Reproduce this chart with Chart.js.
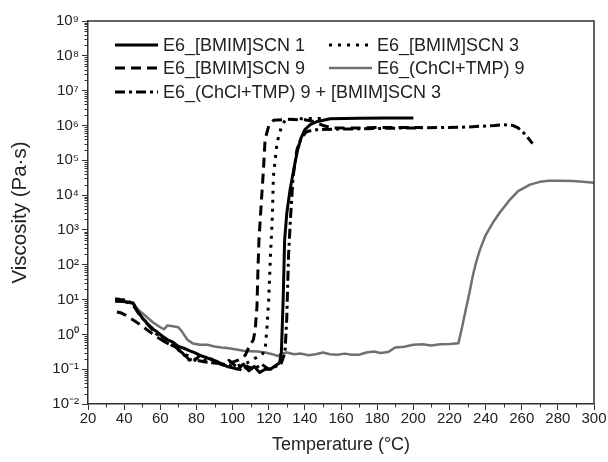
<!DOCTYPE html>
<html>
<head>
<meta charset="utf-8">
<script src="https://cdn.jsdelivr.net/npm/chart.js@4.4.1/dist/chart.umd.min.js"></script>
<style>
  html, body { margin: 0; padding: 0; background: #fff; }
  #wrap { width: 608px; height: 462px; }
</style>
</head>
<body>
<div id="wrap"><canvas id="viscChart" width="608" height="462"></canvas></div>
<script>
// axis ticks
const xTicks = [20, 40, 60, 80, 100, 120, 140, 160, 180, 200, 220, 240, 260, 280, 300];
const yTickExponents = [-2, -1, 0, 1, 2, 3, 4, 5, 6, 7, 8, 9];

// E6_[BMIM]SCN 1 (solid)
const s1Temp = [35, 38, 42, 45, 47, 50, 53, 56, 58, 61, 64, 67, 70, 73, 76, 79, 82, 85, 88, 91, 94, 97, 100, 103, 106, 109, 112, 115, 118, 121, 124, 126, 127, 128, 128.8, 130, 131.8, 134, 136, 138, 140, 143, 147, 154, 170, 185, 200];
const s1Visc = [9, 9, 8.5, 8, 5, 3, 2, 1.4, 1.2, 0.9, 0.7, 0.6, 0.45, 0.4, 0.34, 0.3, 0.25, 0.22, 0.19, 0.17, 0.14, 0.12, 0.11, 0.1, 0.14, 0.09, 0.12, 0.08, 0.1, 0.1, 0.13, 0.15, 0.3, 10, 500, 3e3, 1.4e4, 6e4, 2e5, 4.5e5, 7.6e5, 1.05e6, 1.3e6, 1.55e6, 1.62e6, 1.65e6, 1.65e6];

// E6_[BMIM]SCN 3 (dotted)
const s3Temp = [36, 40, 45, 50, 55, 60, 66, 72, 78, 84, 90, 96, 102, 108, 112, 116, 118, 119, 120, 121, 122, 122.6, 124.6, 127, 129, 135, 150];
const s3Visc = [9.5, 9, 7, 3, 1.6, 0.9, 0.5, 0.3, 0.2, 0.17, 0.15, 0.13, 0.12, 0.15, 0.2, 0.25, 0.35, 1.5, 10, 200, 2.3e3, 3.4e4, 3.2e5, 9e5, 1.4e6, 1.55e6, 1.6e6];

// E6_[BMIM]SCN 9 (dashed)
const s9Temp = [36, 38, 41, 45, 49, 54, 58, 62.6, 67, 72.6, 76, 80, 85, 90, 95, 100, 104, 107, 109, 111.5, 112.5, 113.5, 114, 114.6, 116, 117, 118, 120, 122.6, 130, 140, 145, 150, 155, 170, 185, 205];
const s9Visc = [4.4, 4.2, 3.5, 2.6, 1.9, 1.2, 0.85, 0.6, 0.5, 0.28, 0.19, 0.18, 0.16, 0.15, 0.14, 0.16, 0.19, 0.25, 0.43, 0.7, 1.3, 6.3, 60, 500, 7.5e3, 4.5e4, 4e5, 9.7e5, 1.4e6, 1.5e6, 1.45e6, 1.3e6, 1e6, 8.5e5, 8.5e5, 8.8e5, 8.8e5];

// E6_(ChCl+TMP) 9 (grey)
const chTemp = [35, 40, 45, 48, 52, 56, 60, 62, 64, 67, 70, 72, 75, 78, 82, 86, 90, 94, 98, 102, 106, 110, 114, 118, 122, 125, 127, 130, 134, 138, 142, 146, 150, 154, 158, 162, 166, 170, 174, 178, 182, 186, 190, 195, 200, 205, 210, 215, 220, 225, 227, 229, 231, 233, 235, 237, 240, 244, 248, 253.5, 258, 264.6, 270, 275, 281, 288, 294, 300];
const chVisc = [9, 8.8, 7.5, 5, 3.3, 2.2, 1.6, 1.4, 1.8, 1.7, 1.6, 1.2, 0.7, 0.55, 0.5, 0.5, 0.45, 0.42, 0.4, 0.37, 0.34, 0.33, 0.32, 0.3, 0.27, 0.24, 0.28, 0.3, 0.27, 0.28, 0.25, 0.27, 0.3, 0.27, 0.26, 0.28, 0.26, 0.26, 0.3, 0.32, 0.29, 0.31, 0.42, 0.44, 0.5, 0.52, 0.48, 0.52, 0.53, 0.56, 1.6, 5, 15, 50, 130, 280, 700, 1.6e3, 3.2e3, 7.4e3, 1.3e4, 2e4, 2.4e4, 2.6e4, 2.6e4, 2.55e4, 2.4e4, 2.25e4];

// E6_(ChCl+TMP) 9 + [BMIM]SCN 3 (dash-dot)
const mixTemp = [35, 38, 42, 45, 48, 52, 56, 60, 64, 68, 72, 75, 78, 82, 85, 88, 92, 95, 98, 102, 105, 108, 112, 116, 120, 124, 127, 129, 130, 131, 132, 133.5, 135.6, 138, 141, 145, 155, 170, 185, 200, 215, 230, 245, 250, 255, 258, 262, 266];
const mixVisc = [10.5, 10, 9.5, 7, 4, 2.2, 1.3, 0.8, 0.55, 0.45, 0.3, 0.2, 0.16, 0.25, 0.18, 0.2, 0.15, 0.13, 0.18, 0.12, 0.09, 0.12, 0.1, 0.14, 0.1, 0.12, 0.15, 0.3, 3, 200, 2e3, 3.4e4, 2e5, 4.5e5, 6.6e5, 7.5e5, 7.8e5, 8e5, 8.3e5, 8.5e5, 8.7e5, 9e5, 1e6, 1.05e6, 1e6, 8.5e5, 5.5e5, 3e5];

const FONT = "'Liberation Sans', Arial, sans-serif";
const TXT = '#222';
const AXIS = '#333';

function toPoints(xs, ys) {
  return xs.map((x, i) => ({ x: x, y: ys[i] }));
}

function sup(n) {
  const map = { '-': '\u207B', '0': '\u2070', '1': '\u00B9', '2': '\u00B2', '3': '\u00B3', '4': '\u2074', '5': '\u2075', '6': '\u2076', '7': '\u2077', '8': '\u2078', '9': '\u2079' };
  return String(n).split('').map(c => map[c]).join('');
}

// frame + minor ticks
const framePlugin = {
  id: 'frame',
  afterDraw(chart) {
    const ctx = chart.ctx;
    const a = chart.chartArea;
    const xs = chart.scales.x, ys = chart.scales.y;
    ctx.save();
    ctx.strokeStyle = AXIS;
    ctx.lineWidth = 1.5;
    ctx.beginPath();
    ctx.moveTo(a.left, a.top);
    ctx.lineTo(a.right, a.top);
    ctx.lineTo(a.right, a.bottom);
    ctx.stroke();

    ctx.lineWidth = 1;
    ctx.beginPath();
    for (let i = 0; i < xTicks.length - 1; i++) {
      const px = Math.round(xs.getPixelForValue((xTicks[i] + xTicks[i + 1]) / 2)) + 0.5;
      ctx.moveTo(px, a.bottom);
      ctx.lineTo(px, a.bottom + 3.5);
    }
    for (let i = 0; i < yTickExponents.length - 1; i++) {
      for (let m = 2; m <= 9; m++) {
        const py = Math.round(ys.getPixelForValue(m * Math.pow(10, yTickExponents[i]))) + 0.5;
        ctx.moveTo(a.left, py);
        ctx.lineTo(a.left - 3.5, py);
      }
    }
    ctx.stroke();
    ctx.restore();
  }
};

// legend drawn inside the plot, two columns
const legendPlugin = {
  id: 'insideLegend',
  afterDraw(chart) {
    const ctx = chart.ctx;
    const cols = [115, 329];
    const rows = [45, 68, 92];
    ctx.save();
    ctx.font = '18px ' + FONT;
    ctx.textBaseline = 'middle';
    ctx.fillStyle = TXT;
    chart.data.datasets.forEach((ds, i) => {
      const x = cols[i % 2], y = rows[Math.floor(i / 2)];
      ctx.strokeStyle = ds.borderColor;
      ctx.lineWidth = ds.borderWidth;
      ctx.setLineDash(ds.borderDash || []);
      ctx.beginPath();
      ctx.moveTo(x, y);
      ctx.lineTo(x + 43, y);
      ctx.stroke();
      ctx.setLineDash([]);
      ctx.fillText(ds.label, x + 48, y + 1);
    });
    ctx.restore();
  }
};

const ctx = document.getElementById('viscChart').getContext('2d');
new Chart(ctx, {
  type: 'line',
  data: {
    datasets: [
      { label: 'E6_[BMIM]SCN 1', data: toPoints(s1Temp, s1Visc), borderColor: '#000', borderWidth: 3 },
      { label: 'E6_[BMIM]SCN 3', data: toPoints(s3Temp, s3Visc), borderColor: '#000', borderWidth: 3, borderDash: [3, 6] },
      { label: 'E6_[BMIM]SCN 9', data: toPoints(s9Temp, s9Visc), borderColor: '#000', borderWidth: 3, borderDash: [10, 6] },
      { label: 'E6_(ChCl+TMP) 9', data: toPoints(chTemp, chVisc), borderColor: '#707070', borderWidth: 2.5 },
      { label: 'E6_(ChCl+TMP) 9 + [BMIM]SCN 3', data: toPoints(mixTemp, mixVisc), borderColor: '#000', borderWidth: 3, borderDash: [10, 4, 3, 4] }
    ]
  },
  options: {
    responsive: false,
    devicePixelRatio: 1,
    animation: false,
    layout: { padding: { top: 21, right: 14, left: 0, bottom: 0 } },
    elements: { point: { radius: 0 }, line: { tension: 0, fill: false, borderJoinStyle: 'round' } },
    plugins: { legend: { display: false }, tooltip: { enabled: false } },
    scales: {
      x: {
        type: 'linear',
        min: 20,
        max: 300,
        afterBuildTicks: s => { s.ticks = xTicks.map(v => ({ value: v })); },
        afterFit: s => { s.height = 58; },
        ticks: { color: TXT, font: { family: FONT, size: 15 }, padding: 0, maxRotation: 0 },
        grid: { drawOnChartArea: false, drawTicks: true, tickLength: 6, color: AXIS, lineWidth: 1 },
        border: { display: true, color: AXIS, width: 1.5 },
        title: { display: true, text: 'Temperature (°C)', color: TXT, font: { family: FONT, size: 18 }, padding: { top: 0, bottom: 6 } }
      },
      y: {
        type: 'logarithmic',
        min: 0.01,
        max: 1e9,
        afterBuildTicks: s => { s.ticks = yTickExponents.map(e => ({ value: Math.pow(10, e) })); },
        afterFit: s => { s.width = 88; },
        ticks: {
          color: TXT,
          font: { family: FONT, size: 15 },
          padding: 3,
          callback: v => '10' + sup(Math.round(Math.log10(v)))
        },
        grid: { drawOnChartArea: false, drawTicks: true, tickLength: 6, color: AXIS, lineWidth: 1 },
        border: { display: true, color: AXIS, width: 1.5 },
        title: { display: true, text: 'Viscosity (Pa·s)', color: TXT, font: { family: FONT, size: 20.5 }, padding: { top: 8, bottom: 0 } }
      }
    }
  },
  plugins: [framePlugin, legendPlugin]
});
</script>
</body>
</html>
